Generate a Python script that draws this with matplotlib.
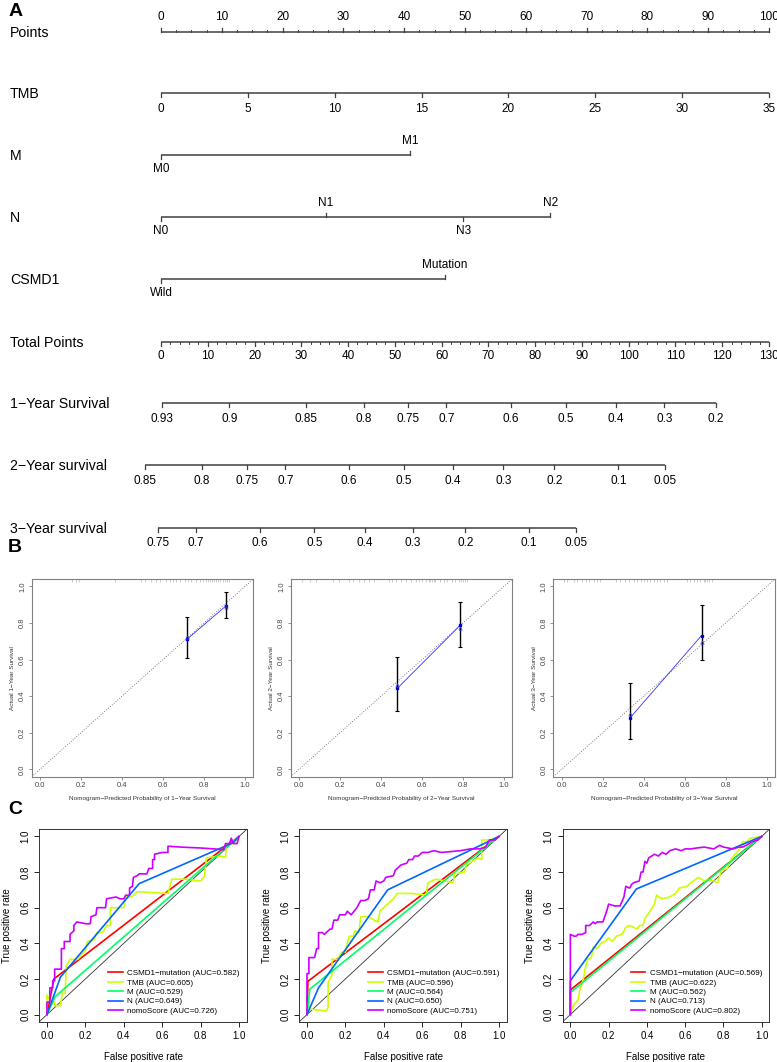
import matplotlib
matplotlib.use('Agg')
import matplotlib.pyplot as plt
import numpy as np

plt.rcParams['font.family'] = ['Liberation Sans', 'DejaVu Sans']
M = '\u2212'  # R draws '-' as a real minus sign

# ---------------- panel A: nomogram ----------------
points_ticks = [0, 10, 20, 30, 40, 50, 60, 70, 80, 90, 100]
points_minor = list(np.arange(0, 100.01, 2.5))
tmb_values = [0, 5, 10, 15, 20, 25, 30, 35]
tmb_max = 35
m_labels = ['M0', 'M1']
m_points = [0, 41.0]
n_labels = ['N0', 'N1', 'N3', 'N2']
n_points = [0, 27.1, 49.7, 64.0]
csmd1_labels = ['Wild', 'Mutation']
csmd1_points = [0, 46.7]
total_ticks = [0, 10, 20, 30, 40, 50, 60, 70, 80, 90, 100, 110, 120, 130]
total_minor = list(range(0, 131, 2))
total_max = 130
surv1_labels = ['0.93', '0.9', '0.85', '0.8', '0.75', '0.7', '0.6', '0.5', '0.4', '0.3', '0.2']
surv1_total = [0.3, 14.6, 31.1, 43.3, 52.9, 61.0, 74.8, 86.5, 97.2, 107.6, 118.7]
surv2_labels = ['0.85', '0.8', '0.75', '0.7', '0.6', '0.5', '0.4', '0.3', '0.2', '0.1', '0.05']
surv2_total = [-3.4, 8.8, 18.3, 26.6, 40.2, 52.0, 62.4, 73.2, 84.1, 97.8, 107.8]
surv3_labels = ['0.75', '0.7', '0.6', '0.5', '0.4', '0.3', '0.2', '0.1', '0.05']
surv3_total = [-0.6, 7.5, 21.2, 32.8, 43.6, 53.9, 65.1, 78.6, 88.7]

# ---------------- panel B: calibration ----------------
cal_pred = [[0.718, 0.908], [0.480, 0.785], [0.332, 0.682]]
cal_obs = [[0.712, 0.894], [0.443, 0.786], [0.279, 0.731]]
cal_lo = [[0.607, 0.825], [0.321, 0.670], [0.166, 0.595]]
cal_hi = [[0.832, 0.969], [0.613, 0.915], [0.474, 0.899]]
cal_bc = [[0.725, 0.885], [0.460, 0.770], [0.300, 0.695]]
rug1 = [0.154, 0.175, 0.19, 0.365, 0.494, 0.51, 0.543, 0.567, 0.583, 0.616, 0.632,
        0.648, 0.665, 0.681, 0.705, 0.721, 0.737, 0.762, 0.778, 0.794, 0.81, 0.82,
        0.83, 0.84, 0.85, 0.86, 0.87, 0.88, 0.89, 0.90, 0.91, 0.92]
rug2 = [0.016, 0.055, 0.084, 0.168, 0.197, 0.242, 0.262, 0.294, 0.318, 0.342, 0.367,
        0.439, 0.455, 0.472, 0.496, 0.52, 0.545, 0.569, 0.585, 0.601, 0.617, 0.633,
        0.641, 0.649, 0.657, 0.665, 0.69, 0.706, 0.722, 0.746, 0.762, 0.78, 0.79,
        0.80, 0.81, 0.82]
rug3 = [0.011, 0.028, 0.06, 0.076, 0.1, 0.117, 0.133, 0.157, 0.173, 0.186, 0.267,
        0.287, 0.311, 0.327, 0.352, 0.368, 0.387, 0.4, 0.417, 0.433, 0.449, 0.465,
        0.481, 0.498, 0.514, 0.611, 0.627, 0.643, 0.66, 0.676, 0.692, 0.70, 0.71,
        0.72, 0.733]
cal_rugs = [rug1, rug2, rug3]
years = ['1', '2', '3']

# ---------------- panel C: ROC ----------------
roc_names = ['CSMD1' + M + 'mutation', 'TMB', 'M', 'N', 'nomoScore']
roc_colors = ['#FF0000', '#CCFF00', '#00FF66', '#0066FF', '#CC00FF']
auc1 = [0.582, 0.605, 0.529, 0.649, 0.726]
auc2 = [0.591, 0.596, 0.564, 0.650, 0.751]
auc3 = [0.569, 0.622, 0.562, 0.713, 0.802]

roc1_csmd1 = [(0, 0), (0.036, 0.2), (1, 1)]
roc1_m = [(0, 0), (0.042, 0.1), (1, 1)]
roc1_n = [(0, 0), (0.07, 0.21), (0.48, 0.735), (0.97, 0.965), (1, 1)]
roc1_tmb = [(0, 0), (0, 0.11), (0.02, 0.07), (0.04, 0.07), (0.04, 0.05), (0.07, 0.05),
            (0.08, 0.12), (0.095, 0.12), (0.1, 0.27), (0.12, 0.31), (0.16, 0.31),
            (0.2, 0.36), (0.21, 0.41), (0.245, 0.42), (0.26, 0.46), (0.29, 0.46),
            (0.31, 0.5), (0.33, 0.5), (0.33, 0.6), (0.36, 0.6), (0.40, 0.6),
            (0.41, 0.66), (0.44, 0.66), (0.47, 0.69), (0.55, 0.685), (0.63, 0.68),
            (0.65, 0.76), (0.72, 0.76), (0.8, 0.75), (0.82, 0.775), (0.83, 0.88),
            (0.9, 0.89), (0.93, 0.885), (0.935, 0.95), (0.97, 0.96), (1, 1)]
roc1_nomo = [(0, 0), (0, 0.07), (0.015, 0.07), (0.015, 0.15), (0.03, 0.15), (0.03, 0.19),
             (0.04, 0.19), (0.04, 0.255), (0.075, 0.255), (0.075, 0.37), (0.09, 0.37),
             (0.09, 0.41), (0.12, 0.41), (0.12, 0.45), (0.14, 0.47), (0.14, 0.5),
             (0.155, 0.52), (0.2, 0.51), (0.225, 0.51), (0.23, 0.55), (0.255, 0.56),
             (0.26, 0.6), (0.305, 0.6), (0.31, 0.65), (0.36, 0.66), (0.38, 0.65),
             (0.40, 0.65), (0.41, 0.67), (0.43, 0.67), (0.43, 0.71), (0.445, 0.72),
             (0.45, 0.77), (0.47, 0.78), (0.48, 0.79), (0.52, 0.79), (0.53, 0.82),
             (0.55, 0.82), (0.55, 0.87), (0.56, 0.87), (0.56, 0.9), (0.6, 0.91),
             (0.63, 0.91), (0.63, 0.945), (0.7, 0.94), (0.8, 0.935), (0.87, 0.93),
             (0.92, 0.925), (0.93, 0.96), (0.95, 0.96), (0.96, 0.99), (0.97, 0.96),
             (0.99, 0.96), (1, 1)]

roc2_csmd1 = [(0, 0), (0.005, 0.187), (1, 1)]
roc2_m = [(0, 0), (0.015, 0.143), (1, 1)]
roc2_n = [(0, 0), (0.06, 0.15), (0.42, 0.70), (1, 1)]
roc2_tmb = [(0, 0), (0, 0.06), (0.02, 0.03), (0.1, 0.02), (0.11, 0.04), (0.11, 0.18),
            (0.13, 0.22), (0.13, 0.31), (0.16, 0.31), (0.18, 0.35), (0.2, 0.35),
            (0.21, 0.4), (0.22, 0.44), (0.24, 0.44), (0.25, 0.47), (0.27, 0.46),
            (0.28, 0.55), (0.32, 0.55), (0.35, 0.53), (0.37, 0.52), (0.38, 0.58),
            (0.42, 0.62), (0.45, 0.65), (0.47, 0.68), (0.55, 0.68), (0.62, 0.67),
            (0.63, 0.74), (0.67, 0.76), (0.72, 0.75), (0.76, 0.74), (0.77, 0.79),
            (0.82, 0.8), (0.83, 0.84), (0.89, 0.88), (0.91, 0.87), (0.91, 0.98),
            (0.95, 0.98), (1, 1)]
roc2_nomo = [(0, 0), (0, 0.23), (0.01, 0.23), (0.01, 0.32), (0.04, 0.32), (0.05, 0.37),
             (0.06, 0.37), (0.06, 0.46), (0.08, 0.46), (0.09, 0.45), (0.11, 0.47),
             (0.12, 0.48), (0.13, 0.48), (0.14, 0.53), (0.16, 0.53), (0.17, 0.56),
             (0.2, 0.56), (0.21, 0.58), (0.23, 0.56), (0.26, 0.6), (0.28, 0.64),
             (0.30, 0.64), (0.32, 0.65), (0.33, 0.70), (0.35, 0.70), (0.36, 0.75),
             (0.38, 0.74), (0.40, 0.75), (0.41, 0.77), (0.45, 0.78), (0.46, 0.81),
             (0.47, 0.82), (0.49, 0.84), (0.52, 0.85), (0.53, 0.87), (0.55, 0.87),
             (0.56, 0.89), (0.58, 0.89), (0.60, 0.91), (0.63, 0.91), (0.66, 0.92),
             (0.70, 0.91), (0.80, 0.92), (0.85, 0.93), (0.90, 0.93), (0.93, 0.94),
             (0.95, 0.98), (0.98, 0.98), (1, 1)]

roc3_csmd1 = [(0, 0), (0, 0.138), (1, 1)]
roc3_m = [(0, 0), (0, 0.124), (1, 1)]
roc3_n = [(0, 0), (0, 0.19), (0.345, 0.705), (1, 1)]
roc3_tmb = [(0, 0), (0, 0.08), (0.01, 0.03), (0.02, 0.06), (0.04, 0.08), (0.05, 0.14),
            (0.06, 0.17), (0.07, 0.21), (0.08, 0.27), (0.09, 0.31), (0.11, 0.32),
            (0.12, 0.38), (0.14, 0.37), (0.16, 0.40), (0.18, 0.41), (0.2, 0.43),
            (0.22, 0.41), (0.24, 0.44), (0.27, 0.45), (0.29, 0.49), (0.31, 0.50),
            (0.35, 0.48), (0.36, 0.5), (0.38, 0.5), (0.39, 0.54), (0.41, 0.57),
            (0.44, 0.62), (0.45, 0.67), (0.48, 0.65), (0.52, 0.66), (0.55, 0.68),
            (0.57, 0.71), (0.61, 0.72), (0.63, 0.74), (0.67, 0.77), (0.7, 0.75),
            (0.72, 0.76), (0.75, 0.75), (0.77, 0.74), (0.79, 0.81), (0.82, 0.82),
            (0.84, 0.87), (0.86, 0.90), (0.88, 0.92), (0.9, 0.97), (0.92, 0.97),
            (0.94, 0.99), (1, 1)]
roc3_nomo = [(0, 0), (0, 0.45), (0.02, 0.44), (0.03, 0.44), (0.04, 0.45), (0.06, 0.45),
             (0.08, 0.46), (0.08, 0.5), (0.1, 0.5), (0.11, 0.51), (0.12, 0.52),
             (0.13, 0.51), (0.14, 0.52), (0.17, 0.52), (0.19, 0.58), (0.20, 0.62),
             (0.23, 0.61), (0.26, 0.61), (0.28, 0.66), (0.29, 0.72), (0.31, 0.71),
             (0.32, 0.73), (0.33, 0.74), (0.36, 0.75), (0.37, 0.8), (0.38, 0.8),
             (0.39, 0.86), (0.4, 0.85), (0.41, 0.88), (0.44, 0.9), (0.46, 0.89),
             (0.48, 0.91), (0.5, 0.9), (0.52, 0.92), (0.55, 0.93), (0.58, 0.92),
             (0.6, 0.93), (0.63, 0.93), (0.66, 0.935), (0.7, 0.94), (0.75, 0.93),
             (0.78, 0.95), (0.8, 0.94), (0.85, 0.93), (0.88, 0.94), (0.9, 0.94),
             (0.92, 0.95), (0.95, 0.97), (0.98, 0.98), (1, 1)]

roc_panels = [
    ([roc1_csmd1, roc1_tmb, roc1_m, roc1_n, roc1_nomo], auc1),
    ([roc2_csmd1, roc2_tmb, roc2_m, roc2_n, roc2_nomo], auc2),
    ([roc3_csmd1, roc3_tmb, roc3_m, roc3_n, roc3_nomo], auc3),
]

W, H = 777, 1062
LINE = '#404040'


def rect(x0, y0, x1, y1):
    # pixel box (top-left origin) -> figure fraction
    return [x0 / W, (H - y1) / H, (x1 - x0) / W, (y1 - y0) / H]


fig = plt.figure(figsize=(W / 100, H / 100), dpi=100)

# ---- nomogram ----
PX_PER_PT = 6.08
ax = fig.add_axes(rect(0, 0, W, 550))
ax.set_xlim(-161 / PX_PER_PT, (W - 161) / PX_PER_PT)
ax.set_ylim(550, 0)
ax.axis('off')


def scale_row(y, xs, labels, sides, tick=4.0, gap=14.5, minor=None, minor_side=1):
    ax.plot([min(xs), max(xs)], [y, y], color=LINE, lw=1.1, solid_capstyle='butt')
    for x, lab, s in zip(xs, labels, sides):
        ax.plot([x, x], [y, y + s * tick], color=LINE, lw=0.9)
        ax.text(x, y + s * gap, lab, ha='center', va='center', fontsize=8.5)
    if minor is not None:
        for x in minor:
            ax.plot([x, x], [y, y + minor_side * 2.0], color=LINE, lw=0.7)


def row_label(y, text):
    ax.text(10 / W, y + 1, text, transform=ax.get_yaxis_transform(),
            ha='left', va='center', fontsize=10.2)


tot = lambda v: [t * 100 / total_max for t in v]

row_label(32.3, 'Points')
scale_row(32.3, points_ticks, [str(p) for p in points_ticks], [-1] * len(points_ticks),
          gap=15.0, minor=points_minor, minor_side=-1)
row_label(93.3, 'TMB')
scale_row(93.3, [v * 100 / tmb_max for v in tmb_values], [str(v) for v in tmb_values],
          [1] * len(tmb_values), gap=15.5)
row_label(155, 'M')
scale_row(155, m_points, m_labels, [1, -1])
row_label(217, 'N')
scale_row(217, n_points, n_labels, [1, -1, 1, -1])
row_label(279, 'CSMD1')
scale_row(279, csmd1_points, csmd1_labels, [1, -1])
row_label(341.7, 'Total Points')
scale_row(341.7, tot(total_ticks), [str(t) for t in total_ticks], [1] * len(total_ticks),
          minor=tot(total_minor), minor_side=1)
row_label(403, '1' + M + 'Year Survival')
scale_row(403, tot(surv1_total), surv1_labels, [1] * len(surv1_labels), gap=16)
row_label(465, '2' + M + 'Year survival')
scale_row(465, tot(surv2_total), surv2_labels, [1] * len(surv2_labels), gap=16)
row_label(527.7, '3' + M + 'Year survival')
scale_row(527.7, tot(surv3_total), surv3_labels, [1] * len(surv3_labels), gap=15)

fig.text(9 / W, 1 - 12 / H, 'A', fontsize=14, fontweight='bold', va='center', ha='left')
fig.text(8 / W, 1 - 548 / H, 'B', fontsize=14, fontweight='bold', va='center', ha='left')
fig.text(8 / W, 1 - 809 / H, 'C', fontsize=14, fontweight='bold', va='center', ha='left')

# ---- calibration plots ----
cal_boxes = [(31.7, 579, 253.3, 776.7), (290.7, 579, 512.3, 776.7), (553.3, 579, 775, 776.7)]
ticks = [0.0, 0.2, 0.4, 0.6, 0.8, 1.0]
for i, box in enumerate(cal_boxes):
    cax = fig.add_axes(rect(*box))
    cax.set_xlim(-0.04, 1.04)
    cax.set_ylim(-0.04, 1.04)
    cax.axline((0, 0), slope=1, color='#555555', lw=0.6, ls=(0, (1, 2)))
    cax.vlines(cal_rugs[i], 1.022, 1.04, color='#888888', lw=0.5, alpha=0.6)
    pred = np.array(cal_pred[i])
    obs = np.array(cal_obs[i])
    cax.errorbar(pred, obs, yerr=[obs - np.array(cal_lo[i]), np.array(cal_hi[i]) - obs],
                 fmt='none', ecolor='black', elinewidth=1.0, capsize=1.6, capthick=0.8)
    cax.plot(pred, obs, color='#3333FF', lw=0.6, marker='s', ms=2.0,
             mfc='#0000CC', mec='#0000CC')
    cax.plot(pred, cal_bc[i], ls='none', marker='^', ms=2.4, mfc='none',
             mec='#3333FF', mew=0.5)
    cax.set_xticks(ticks)
    cax.set_yticks(ticks)
    cax.set_xticklabels(['%.1f' % t for t in ticks])
    cax.set_yticklabels(['%.1f' % t for t in ticks], rotation=90, va='center')
    cax.tick_params(labelsize=5.4, length=2, width=0.5, colors='#666666',
                    labelcolor='#444444', pad=2)
    for sp in cax.spines.values():
        sp.set_color('#808080')
        sp.set_linewidth(0.8)
    cax.set_ylabel('Actual ' + years[i] + M + 'Year Survival', fontsize=4.6, labelpad=3,
                   color='#333333')
    cax.set_xlabel('Nomogram' + M + 'Predicted Probability of ' + years[i] + M + 'Year Survival',
                   fontsize=4.6, labelpad=5, color='#333333')

# ---- ROC plots ----
roc_boxes = [(39.3, 829.3, 246.7, 1021.7), (299.3, 829.3, 506.7, 1021.7),
             (562.7, 829.3, 769.3, 1021.7)]
for box, (curves, aucs) in zip(roc_boxes, roc_panels):
    rax = fig.add_axes(rect(*box))
    rax.set_xlim(-0.04, 1.04)
    rax.set_ylim(-0.04, 1.04)
    rax.axline((0, 0), slope=1, color='#333333', lw=0.6)
    for pts, name, col, auc in zip(curves, roc_names, roc_colors, aucs):
        xs = [p[0] for p in pts]
        ys = [p[1] for p in pts]
        rax.plot(xs, ys, color=col, lw=1.2, label='%s (AUC=%.3f)' % (name, auc))
    rax.set_xticks(ticks)
    rax.set_yticks(ticks)
    rax.set_xticklabels(['%.1f' % t for t in ticks])
    rax.set_yticklabels(['%.1f' % t for t in ticks], rotation=90, va='center')
    rax.tick_params(labelsize=7, length=3.5, width=0.6, pad=3)
    for sp in rax.spines.values():
        sp.set_color('#333333')
        sp.set_linewidth(0.7)
    rax.set_xlabel('False positive rate', fontsize=7, labelpad=8)
    rax.set_ylabel('True positive rate', fontsize=7, labelpad=6)
    rax.legend(loc='lower right', frameon=False, fontsize=5.8, handlelength=1.8,
               handletextpad=0.6, labelspacing=0.22, borderaxespad=0.45)

fig.savefig('out.png', dpi=100)
